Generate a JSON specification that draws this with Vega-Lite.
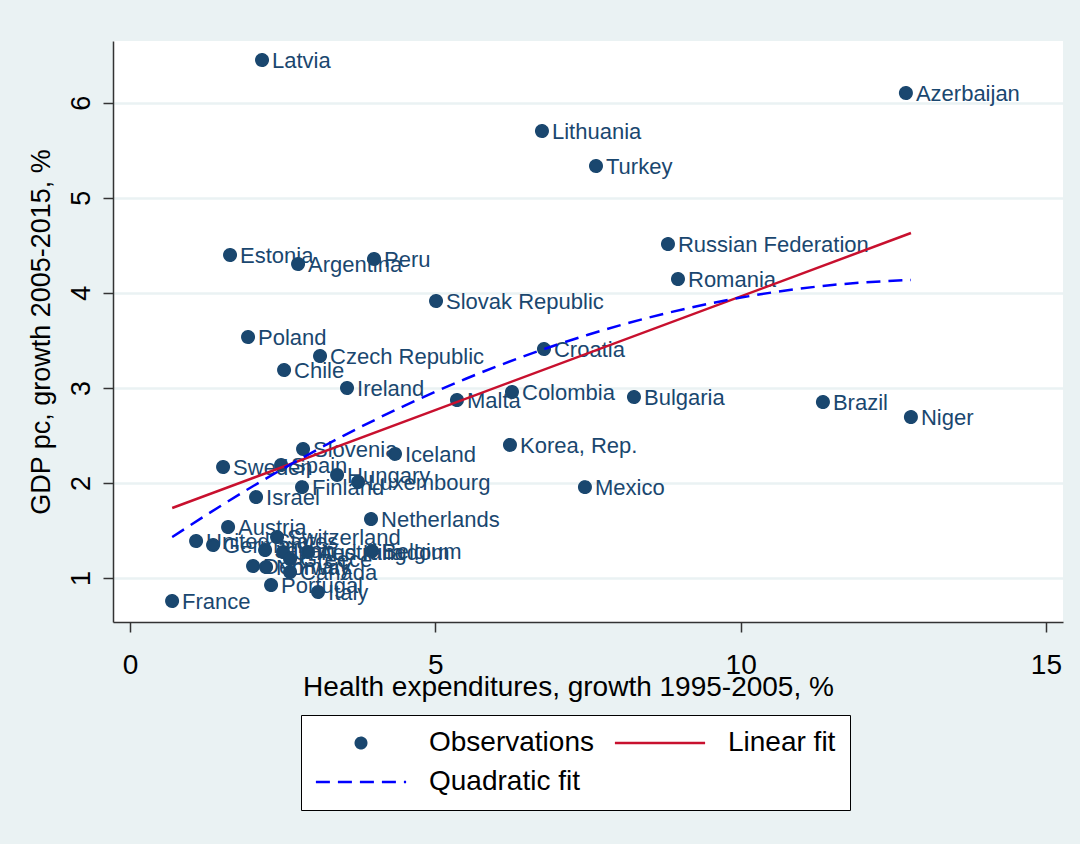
{
  "$schema": "https://vega.github.io/schema/vega-lite/v6.json",
  "width": 950,
  "height": 581,
  "autosize": "none",
  "padding": {"left": 113, "top": 41, "right": 17, "bottom": 222},
  "background": "#eaf2f3",
  "config": {
    "view": {"fill": "white", "stroke": null},
    "font": "Liberation Sans",
    "axis": {"labelFont": "Liberation Sans", "titleFont": "Liberation Sans", "labelColor": "black", "titleColor": "black", "titleFontWeight": "normal", "labelFontSize": 28, "titleFontSize": 28, "domainColor": "#333333", "tickColor": "#333333", "domainWidth": 1.5, "tickWidth": 1.5, "tickSize": 10}
  },
  "datasets": {
    "obs": [
      {"country": "Latvia", "hx": 2.161, "gdp": 6.449},
      {"country": "Azerbaijan", "hx": 12.707, "gdp": 6.102},
      {"country": "Lithuania", "hx": 6.746, "gdp": 5.702},
      {"country": "Turkey", "hx": 7.631, "gdp": 5.334},
      {"country": "Russian Federation", "hx": 8.81, "gdp": 4.513},
      {"country": "Romania", "hx": 8.974, "gdp": 4.145},
      {"country": "Estonia", "hx": 1.637, "gdp": 4.398},
      {"country": "Argentina", "hx": 2.751, "gdp": 4.303},
      {"country": "Peru", "hx": 3.995, "gdp": 4.356},
      {"country": "Slovak Republic", "hx": 5.011, "gdp": 3.914},
      {"country": "Poland", "hx": 1.932, "gdp": 3.535},
      {"country": "Czech Republic", "hx": 3.111, "gdp": 3.335},
      {"country": "Croatia", "hx": 6.779, "gdp": 3.409},
      {"country": "Chile", "hx": 2.522, "gdp": 3.188},
      {"country": "Ireland", "hx": 3.553, "gdp": 2.999},
      {"country": "Colombia", "hx": 6.255, "gdp": 2.957},
      {"country": "Malta", "hx": 5.354, "gdp": 2.872},
      {"country": "Bulgaria", "hx": 8.253, "gdp": 2.904},
      {"country": "Brazil", "hx": 11.348, "gdp": 2.851},
      {"country": "Niger", "hx": 12.789, "gdp": 2.693},
      {"country": "Korea, Rep.", "hx": 6.222, "gdp": 2.4},
      {"country": "Slovenia", "hx": 2.833, "gdp": 2.357},
      {"country": "Iceland", "hx": 4.339, "gdp": 2.305},
      {"country": "Sweden", "hx": 1.523, "gdp": 2.168},
      {"country": "Spain", "hx": 2.473, "gdp": 2.189},
      {"country": "Hungary", "hx": 3.39, "gdp": 2.084},
      {"country": "Luxembourg", "hx": 3.734, "gdp": 2.01},
      {"country": "Finland", "hx": 2.816, "gdp": 1.956},
      {"country": "Mexico", "hx": 7.45, "gdp": 1.956},
      {"country": "Israel", "hx": 2.063, "gdp": 1.851},
      {"country": "Netherlands", "hx": 3.946, "gdp": 1.62},
      {"country": "Austria", "hx": 1.605, "gdp": 1.536},
      {"country": "United States", "hx": 1.081, "gdp": 1.389},
      {"country": "Germany", "hx": 1.359, "gdp": 1.347},
      {"country": "Switzerland", "hx": 2.407, "gdp": 1.431},
      {"country": "Japan", "hx": 2.211, "gdp": 1.294},
      {"country": "United Kingdom", "hx": 2.505, "gdp": 1.273},
      {"country": "Australia", "hx": 2.915, "gdp": 1.273},
      {"country": "Belgium", "hx": 3.963, "gdp": 1.284},
      {"country": "Greece", "hx": 2.62, "gdp": 1.2},
      {"country": "Denmark", "hx": 2.014, "gdp": 1.126},
      {"country": "Norway", "hx": 2.227, "gdp": 1.115},
      {"country": "Canada", "hx": 2.62, "gdp": 1.063},
      {"country": "Portugal", "hx": 2.309, "gdp": 0.926},
      {"country": "Italy", "hx": 3.078, "gdp": 0.853},
      {"country": "France", "hx": 0.688, "gdp": 0.758}
    ],
    "lin": [
      {"hx": 0.69, "gdp": 1.736},
      {"hx": 12.79, "gdp": 4.629}
    ],
    "quad": [
      {"hx": 0.69, "gdp": 1.43},
      {"hx": 1.5, "gdp": 1.765},
      {"hx": 2.5, "gdp": 2.148},
      {"hx": 3.5, "gdp": 2.498},
      {"hx": 4.5, "gdp": 2.814},
      {"hx": 5.5, "gdp": 3.096},
      {"hx": 6.5, "gdp": 3.344},
      {"hx": 7.5, "gdp": 3.559},
      {"hx": 8.5, "gdp": 3.74},
      {"hx": 9.5, "gdp": 3.888},
      {"hx": 10.5, "gdp": 4.002},
      {"hx": 11.5, "gdp": 4.082},
      {"hx": 12.79, "gdp": 4.136}
    ]
  },
  "encoding": {
    "x": {"field": "hx", "type": "quantitative", "scale": {"domain": [-0.28, 15.28], "nice": false, "zero": false},
      "axis": {"title": "Health expenditures, growth 1995-2005, %", "values": [0, 5, 10, 15], "grid": false, "labelPadding": 19, "titlePadding": -6, "titleX": 455, "labelFlush": false}},
    "y": {"field": "gdp", "type": "quantitative", "scale": {"domain": [0.537, 6.649], "nice": false, "zero": false},
      "axis": {"title": "GDP pc, growth 2005-2015, %", "values": [1, 2, 3, 4, 5, 6], "grid": true, "gridColor": "#eaf2f3", "gridWidth": 2.5, "labelAngle": -90, "labelAlign": "center", "labelBaseline": "bottom", "labelPadding": 8, "labelFontSize": 27, "titleFontSize": 27, "titlePadding": 12, "labelFlush": false}}
  },
  "layer": [
    {
      "data": {"name": "obs"},
      "mark": {"type": "point", "filled": true, "size": 132, "strokeWidth": 2.5, "opacity": 1},
      "encoding": {
        "color": {"datum": "Observations", "type": "nominal",
          "scale": {"domain": ["Observations", "Linear fit", "Quadratic fit"], "range": ["#1a476f", "#c8102e", "#0000ff"]},
          "legend": {
            "title": null, "orient": "none", "legendX": 188, "legendY": 674, "direction": "horizontal", "columns": 2,
            "strokeColor": "black", "fillColor": "white", "padding": 14,
            "labelFont": "Liberation Sans", "labelFontSize": 28, "labelColor": "black", "labelLimit": 400,
            "symbolSize": 110, "symbolOffset": 32, "labelOffset": 54, "columnPadding": 15, "rowPadding": 11,
            "symbolStrokeWidth": 2.5
          }},
        "stroke": {"datum": "Observations", "type": "nominal",
          "scale": {"domain": ["Observations", "Linear fit", "Quadratic fit"], "range": ["#1a476f", "#c8102e", "#0000ff"]},
          "legend": {"title": null}},
        "shape": {"datum": "Observations", "type": "nominal",
          "scale": {"domain": ["Observations", "Linear fit", "Quadratic fit"], "range": ["circle", "M-8.6,0H8.6", "M-8.6,0H8.6"]},
          "legend": {"title": null}},
        "strokeDash": {"datum": "Observations", "type": "nominal",
          "scale": {"domain": ["Observations", "Linear fit", "Quadratic fit"], "range": [[1, 0], [1, 0], [14, 8]]},
          "legend": {"title": null}}
      }
    },
    {
      "data": {"name": "obs"},
      "mark": {"type": "text", "align": "left", "baseline": "middle", "dx": 10, "dy": 1, "fontSize": 22, "font": "Liberation Sans", "color": "#1a476f"},
      "encoding": {"text": {"field": "country"}}
    },
    {
      "data": {"name": "lin"},
      "mark": {"type": "line", "strokeWidth": 2.5, "color": "#c8102e"},
      "encoding": {}
    },
    {
      "data": {"name": "quad"},
      "mark": {"type": "line", "strokeWidth": 2.5, "strokeDash": [14, 8], "color": "#0000ff", "interpolate": "monotone"},
      "encoding": {}
    }
  ]
}
